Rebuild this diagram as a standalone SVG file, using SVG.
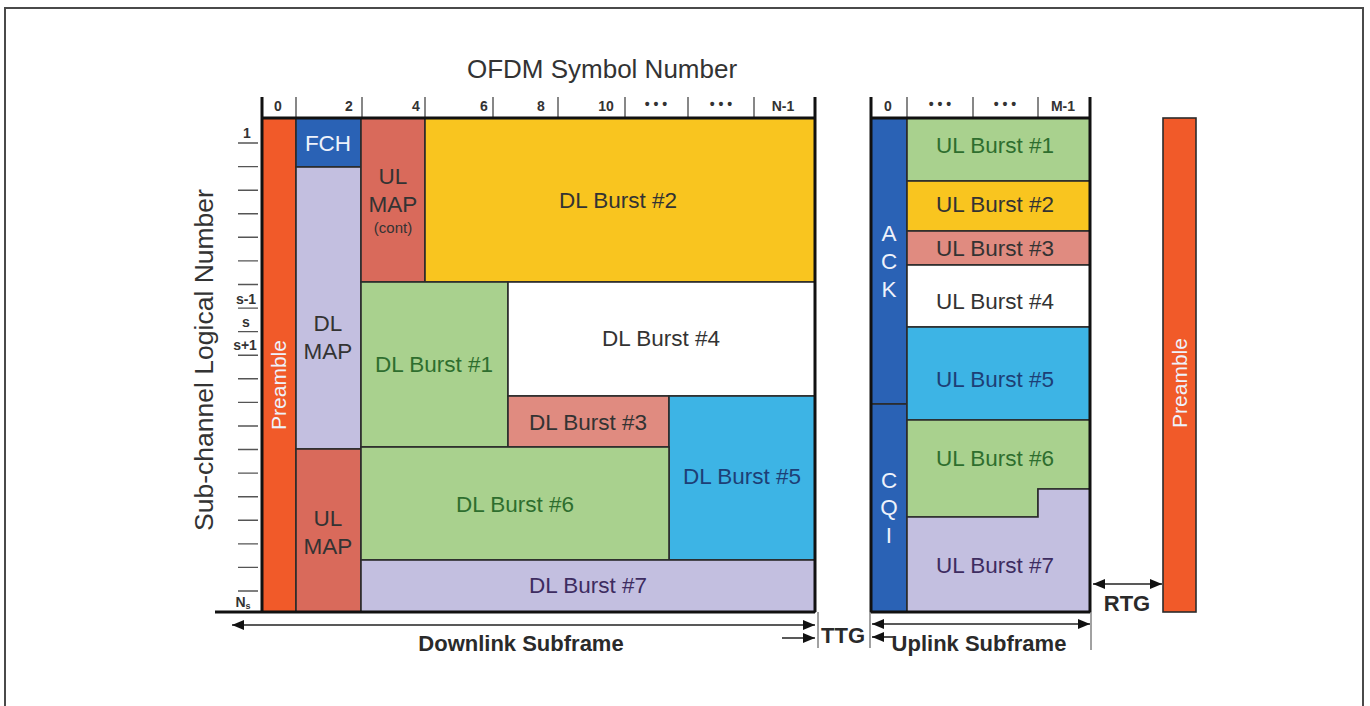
<svg xmlns="http://www.w3.org/2000/svg" width="1370" height="706" viewBox="0 0 1370 706">
  <defs>
    <style>
      .blk { stroke: #2b2b2b; stroke-width: 1.6; }
      .pre { fill: #f15a29; }
      .blue { fill: #2a62b5; }
      .lav { fill: #c3bfe0; }
      .sal { fill: #d96a5b; }
      .sal2 { fill: #e08b80; }
      .yel { fill: #f9c51f; }
      .grn { fill: #a9d18e; }
      .cyan { fill: #3db4e5; }
      .wht { fill: #ffffff; }
      .lbl { font-family: "Liberation Sans", Arial, sans-serif; font-size: 22.5px; text-anchor: middle; fill: #333333; }
      .small { font-size: 15px; }
      .pr { font-size: 21px; }
      .lt { fill: #eef2fb; }
      .tg { fill: #2e6e2e; }
      .tb { fill: #1d3f76; }
      .tp { fill: #3d2c60; }
      .ax { font-family: "Liberation Sans", Arial, sans-serif; font-size: 14px; font-weight: bold; text-anchor: middle; fill: #333333; }
      .title { font-family: "Liberation Sans", Arial, sans-serif; font-size: 26px; text-anchor: middle; fill: #333333; }
      .bold { font-family: "Liberation Sans", Arial, sans-serif; font-size: 22px; font-weight: bold; text-anchor: middle; fill: #2a2a2a; }
      .thick { stroke: #111111; stroke-width: 3; fill: none; }
      .tick { stroke: #555555; stroke-width: 1.4; fill: none; }
      .arr { stroke: #222222; stroke-width: 1.6; fill: none; }
      .guide { stroke: #444444; stroke-width: 1; fill: none; }
    </style>
    <marker id="ah" viewBox="0 0 12 10" refX="12" refY="5" markerWidth="12" markerHeight="10" markerUnits="userSpaceOnUse" orient="auto-start-reverse">
      <path d="M0,0 L12,5 L0,10 Z" fill="#111111"/>
    </marker>
  </defs>

  <!-- outer frame (open at the bottom) -->
  <path d="M5,706 L5,8 L1363,8 L1363,706" fill="none" stroke="#4a4a4a" stroke-width="2"/>

  <!-- titles -->
  <text class="title" x="602" y="78">OFDM Symbol Number</text>
  <text class="title" style="font-size:26.5px" transform="translate(213,360) rotate(-90)">Sub-channel Logical Number</text>

  <!-- downlink subframe blocks -->
  <g id="dl-preamble">
    <rect class="blk pre" x="262" y="118" width="34" height="494"/>
    <text class="lbl lt pr" transform="translate(286,385) rotate(-90)">Preamble</text>
  </g>
  <g id="fch">
    <rect class="blk blue" x="296" y="118" width="65" height="49"/>
    <text class="lbl lt" x="328" y="151">FCH</text>
  </g>
  <g id="dl-map">
    <rect class="blk lav" x="296" y="167" width="65" height="282"/>
    <text class="lbl" x="328" y="331">DL</text>
    <text class="lbl" x="328" y="359">MAP</text>
  </g>
  <g id="ul-map">
    <rect class="blk sal" x="296" y="449" width="65" height="163"/>
    <text class="lbl" x="328" y="526">UL</text>
    <text class="lbl" x="328" y="554">MAP</text>
  </g>
  <g id="ul-map-cont">
    <rect class="blk sal" x="361" y="118" width="64" height="164"/>
    <text class="lbl" x="393" y="184">UL</text>
    <text class="lbl" x="393" y="212">MAP</text>
    <text class="lbl small" x="393" y="233">(cont)</text>
  </g>
  <g id="dl-burst-2">
    <rect class="blk yel" x="425" y="118" width="390" height="164"/>
    <text class="lbl" x="618" y="208">DL Burst #2</text>
  </g>
  <g id="dl-burst-1">
    <rect class="blk grn" x="361" y="282" width="147" height="165"/>
    <text class="lbl tg" x="434" y="372">DL Burst #1</text>
  </g>
  <g id="dl-burst-4">
    <rect class="blk wht" x="508" y="282" width="307" height="114"/>
    <text class="lbl" x="661" y="346">DL Burst #4</text>
  </g>
  <g id="dl-burst-3">
    <rect class="blk sal2" x="508" y="396" width="161" height="51"/>
    <text class="lbl" x="588" y="430">DL Burst #3</text>
  </g>
  <g id="dl-burst-5">
    <rect class="blk cyan" x="669" y="396" width="146" height="164"/>
    <text class="lbl tb" x="742" y="484">DL Burst #5</text>
  </g>
  <g id="dl-burst-6">
    <rect class="blk grn" x="361" y="447" width="308" height="113"/>
    <text class="lbl tg" x="515" y="512">DL Burst #6</text>
  </g>
  <g id="dl-burst-7">
    <rect class="blk lav" x="361" y="560" width="454" height="52"/>
    <text class="lbl tp" x="588" y="593">DL Burst #7</text>
  </g>

  <!-- uplink subframe blocks -->
  <g id="ack">
    <rect class="blk blue" x="871" y="118" width="36" height="286"/>
    <text class="lbl lt" x="889" y="241">A</text>
    <text class="lbl lt" x="889" y="269">C</text>
    <text class="lbl lt" x="889" y="297">K</text>
  </g>
  <g id="cqi">
    <rect class="blk blue" x="871" y="404" width="36" height="208"/>
    <text class="lbl lt" x="889" y="488">C</text>
    <text class="lbl lt" x="889" y="515">Q</text>
    <text class="lbl lt" x="889" y="543">I</text>
  </g>
  <g id="ul-burst-1">
    <rect class="blk grn" x="907" y="118" width="183" height="63"/>
    <text class="lbl tg" x="995" y="153">UL Burst #1</text>
  </g>
  <g id="ul-burst-2">
    <rect class="blk yel" x="907" y="181" width="183" height="50"/>
    <text class="lbl" x="995" y="212">UL Burst #2</text>
  </g>
  <g id="ul-burst-3">
    <rect class="blk sal2" x="907" y="231" width="183" height="34"/>
    <text class="lbl" x="995" y="256">UL Burst #3</text>
  </g>
  <g id="ul-burst-4">
    <rect class="blk wht" x="907" y="265" width="183" height="62"/>
    <text class="lbl" x="995" y="309">UL Burst #4</text>
  </g>
  <g id="ul-burst-5">
    <rect class="blk cyan" x="907" y="327" width="183" height="93"/>
    <text class="lbl tb" x="995" y="387">UL Burst #5</text>
  </g>
  <g id="ul-burst-6">
    <path class="blk grn" d="M907,420 H1090 V489 H1038 V517 H907 Z"/>
    <text class="lbl tg" x="995" y="466">UL Burst #6</text>
  </g>
  <g id="ul-burst-7">
    <path class="blk lav" d="M907,517 H1038 V489 H1090 V612 H907 Z"/>
    <text class="lbl tp" x="995" y="573">UL Burst #7</text>
  </g>

  <g id="ul-preamble">
    <rect class="blk pre" x="1163" y="118" width="33" height="494"/>
    <text class="lbl lt pr" transform="translate(1187,383) rotate(-90)">Preamble</text>
  </g>

  <!-- downlink axes -->
  <g id="dl-axes">
    <path class="tick" d="M296,97 V118 M362,97 V118 M425,97 V118 M493,97 V118 M558,97 V118 M625,97 V118 M688,97 V118 M754,97 V118"/>
    <path class="thick" d="M262,97 V612 M815,97 V612 M262,118 H815 M215,612 H815"/>
    <text class="ax" x="278" y="111">0</text>
    <text class="ax" x="349" y="111">2</text>
    <text class="ax" x="416" y="111">4</text>
    <text class="ax" x="484" y="111">6</text>
    <text class="ax" x="541" y="111">8</text>
    <text class="ax" x="606" y="111">10</text>
    <text class="ax" x="656" y="109">• • •</text>
    <text class="ax" x="721" y="109">• • •</text>
    <text class="ax" x="783" y="111">N-1</text>
    <path class="tick" d="M238,143.0 H258 M238,166.6 H258 M238,190.2 H258 M238,213.7 H258 M238,237.3 H258 M238,260.9 H258 M238,284.5 H258 M238,308.1 H258 M238,331.6 H258 M238,355.2 H258 M238,378.8 H258 M238,402.4 H258 M238,426.0 H258 M238,449.5 H258 M238,473.1 H258 M238,496.7 H258 M238,520.3 H258 M238,543.9 H258 M238,567.4 H258 M238,591.0 H258"/>
    <text class="ax" x="247" y="138">1</text>
    <text class="ax" x="246" y="304">s-1</text>
    <text class="ax" x="246" y="327">s</text>
    <text class="ax" x="245" y="350">s+1</text>
    <text class="ax" x="243" y="607">N<tspan font-size="9" dy="2">s</tspan></text>
  </g>

  <!-- uplink axes -->
  <g id="ul-axes">
    <path class="tick" d="M907,97 V118 M973,97 V118 M1038,97 V118"/>
    <path class="thick" d="M871,97 V612 M1090,97 V612 M871,118 H1090 M871,612 H1090"/>
    <text class="ax" x="888" y="111">0</text>
    <text class="ax" x="940" y="109">• • •</text>
    <text class="ax" x="1005" y="109">• • •</text>
    <text class="ax" x="1063" y="111">M-1</text>
  </g>

  <!-- subframe and gap connectors -->
  <g id="connectors">
    <path class="guide" d="M818,612 V648 M870,612 V648 M1091,612 V650"/>
    <line class="arr" x1="232" y1="625" x2="815" y2="625" marker-start="url(#ah)" marker-end="url(#ah)"/>
    <line class="arr" x1="782" y1="638" x2="815" y2="638" marker-end="url(#ah)"/>
    <line class="arr" x1="872" y1="624" x2="1090" y2="624" marker-start="url(#ah)" marker-end="url(#ah)"/>
    <line class="arr" x1="893" y1="637" x2="872" y2="637" marker-end="url(#ah)"/>
    <line class="arr" x1="1093" y1="584" x2="1162" y2="584" marker-start="url(#ah)" marker-end="url(#ah)"/>
  </g>

  <text class="bold" x="521" y="651">Downlink Subframe</text>
  <text class="bold" x="843" y="643">TTG</text>
  <text class="bold" x="979" y="651">Uplink Subframe</text>
  <text class="bold" x="1127" y="611">RTG</text>
</svg>
